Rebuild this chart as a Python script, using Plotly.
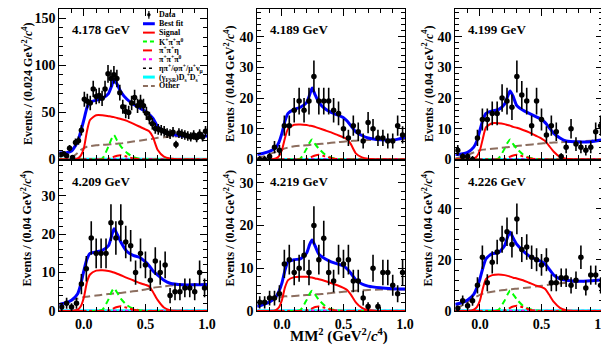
import numpy as np
import plotly.graph_objects as go

W, H = 609, 349
FONT = "Liberation Serif"

# ---------------- data ----------------
energies = ["4.178 GeV", "4.189 GeV", "4.199 GeV", "4.209 GeV", "4.219 GeV", "4.226 GeV"]
bin_widths = [0.024, 0.04, 0.04, 0.04, 0.04, 0.04]
y_max = [160, 49, 49, 39, 35, 58.5]
y_major = [50, 10, 10, 10, 10, 20]
y_minor = [10, 2, 2, 2, 2, 4]
y_titles = ["Events / (0.024 GeV<sup>2</sup>/<i>c</i><sup>4</sup>)"] + \
           ["Events / (0.04 GeV<sup>2</sup>/<i>c</i><sup>4</sup>)"] * 5
x_tickvals = [0.0, 0.5, 1.0]
x_ticktext = ["0.0", "0.5", "1.0"]

counts_4178 = [5, 6, 4, 12, 2, 18, 20, 31, 64, 62, 60, 75, 67, 68, 65, 75, 91, 86, 90, 86,
               71, 56, 51, 50, 60, 66, 57, 61, 57, 49, 44, 38, 33, 32, 31, 30, 28, 27, 29, 16,
               28, 27, 26, 25, 24, 26, 23, 27, 24, 30]
counts_4189 = [0, 0, 1, 4, 3, 11, 11, 16, 19, 16, 19, 27, 19, 19, 19, 16, 15, 10, 7, 11,
               9, 6, 12, 10, 7, 7, 6, 6, 11, 8]
counts_4199 = [3, 1, 1, 0, 7, 13, 13, 15, 15, 20, 19, 17, 27, 21, 19, 11, 19, 13, 8, 11,
               9, 1, 4, 10, 5, 4, 3, 4, 9, 11]
counts_4209 = [1, 2, 1, 2, 7, 11, 19, 15, 15, 15, 23, 19, 23, 18, 17, 10, 15, 12, 8, 13,
               10, 12, 4, 5, 5, 6, 6, 5, 10, 6]
counts_4219 = [2, 2, 3, 3, 4, 11, 12, 9, 10, 13, 9, 20, 12, 17, 9, 7, 12, 11, 12, 7,
               7, 3, 1, 10, 1, 9, 9, 6, 4, 9]
counts_4226 = [1, 4, 2, 4, 10, 21, 11, 19, 23, 28, 31, 26, 36, 24, 25, 21, 20, 18, 20, 11,
               11, 13, 13, 10, 12, 21, 9, 14, 14, 10]

curve_x = [-0.2, -0.15, -0.1, -0.05, -0.025, 0.0, 0.025, 0.05, 0.1, 0.15, 0.2, 0.225, 0.245,
           0.27, 0.3, 0.35, 0.4, 0.45, 0.5, 0.53, 0.56, 0.6, 0.65, 0.7, 0.8, 0.9, 1.0]

fit_4178 = [7, 7, 9, 19, 30, 42, 55, 61, 63, 65, 70, 78, 85, 80, 72, 64, 59, 55, 51, 48, 44, 35, 29, 27, 25, 24.5, 25]
sig_4178 = [0, 0, 0, 1, 4, 12, 30, 42, 47, 47, 46, 45.5, 45, 44, 43, 41, 38, 35, 32, 30, 24, 10, 3, 1, 0, 0, 0]
kpp_4178 = [0, 0, 0, 0, 0, 0, 0, 0, 0, 1, 14, 22, 26, 20, 14, 7, 2.5, 0.8, 0, 0, 0, 0, 0, 0, 0, 0, 0]
ppe_4178 = [0, 0, 0, 0, 0, 0, 0, 0, 0, 0, 0.5, 1.5, 3, 4, 4.5, 3, 1, 0.3, 0, 0, 0, 0, 0, 0, 0, 0, 0]
oth_4178 = [0, 0.3, 2, 7, 10, 12, 13.5, 14, 15, 15.5, 16, 16.3, 16.5, 16.8, 17, 18, 19, 20, 21, 21.5, 22, 23, 23.5, 24, 25, 25, 25]

fit_4189 = [1.6, 2, 2.6, 3.8, 5.5, 8.5, 12.5, 15, 16.3, 17, 18.5, 21, 23.3, 21, 18.6, 16.5, 15.3, 14.5, 13.6, 12.5, 11, 9, 7.8, 7, 6.4, 6.3, 7.2]
sig_4189 = [0, 0, 0, 0.3, 1, 3, 7, 10, 11.3, 11.4, 11.2, 11, 10.9, 10.6, 10.2, 9.5, 8.8, 8, 7.2, 6.6, 5, 2, 0.7, 0.2, 0, 0, 0]
kpp_4189 = [0, 0, 0, 0, 0, 0, 0, 0, 0, 0.3, 3.5, 5.5, 6.5, 5, 3.5, 1.6, 0.6, 0.2, 0, 0, 0, 0, 0, 0, 0, 0, 0]
ppe_4189 = [0, 0, 0, 0, 0, 0, 0, 0, 0, 0, 0.1, 0.4, 0.9, 1.3, 1.5, 1.0, 0.4, 0.1, 0, 0, 0, 0, 0, 0, 0, 0, 0]
oth_4189 = [0.5, 1.0, 1.8, 2.4, 2.8, 3.2, 3.6, 3.9, 4.3, 4.5, 4.6, 4.7, 4.8, 4.9, 5.0, 5.2, 5.4, 5.6, 5.8, 5.9, 6.0, 6.1, 6.2, 6.3, 6.4, 6.5, 6.6]

fit_4199 = [1.6, 1.8, 2.3, 4, 6, 9.5, 13, 15, 15.8, 16.2, 18, 20.5, 22.3, 20.5, 17.5, 16, 15, 14, 13, 12, 10.5, 8.5, 7, 6, 5.7, 5.8, 6.4]
sig_4199 = [0, 0, 0, 0.3, 1, 3, 7, 10.5, 11.8, 11.8, 11.5, 11.2, 11, 10.6, 10.3, 9.6, 8.8, 7.8, 6.8, 6, 4.5, 2.5, 0.8, 0.2, 0, 0, 0]
kpp_4199 = [0, 0, 0, 0, 0, 0, 0, 0, 0, 0.3, 3.5, 5.5, 6.5, 5, 3.5, 1.6, 0.6, 0.2, 0, 0, 0, 0, 0, 0, 0, 0, 0]
ppe_4199 = [0, 0, 0, 0, 0, 0, 0, 0, 0, 0, 0.1, 0.4, 0.9, 1.3, 1.5, 1.0, 0.4, 0.1, 0, 0, 0, 0, 0, 0, 0, 0, 0]
oth_4199 = [0.3, 0.8, 1.5, 2.3, 2.7, 3.0, 3.2, 3.3, 3.5, 3.7, 3.9, 4.0, 4.1, 4.2, 4.4, 4.6, 4.8, 5.0, 5.2, 5.3, 5.4, 5.5, 5.6, 5.7, 5.9, 6.1, 6.3]

fit_4209 = [1.7, 2.1, 2.8, 4.5, 7, 10.5, 13.5, 15, 15.4, 15.8, 17, 19.5, 21.4, 20, 18, 15.5, 14.5, 14, 12.8, 11.8, 10.5, 9.3, 8, 7.2, 6.8, 6.8, 6.9]
sig_4209 = [0, 0, 0, 0.3, 1.2, 3.5, 7.5, 9.5, 10.5, 10.6, 10.4, 10.2, 10, 9.7, 9.3, 8.6, 8, 7.3, 6.8, 6.4, 5, 2.8, 0.9, 0.2, 0, 0, 0]
kpp_4209 = [0, 0, 0, 0, 0, 0, 0, 0, 0, 0.3, 3, 5, 5.9, 4.8, 3.2, 1.5, 0.6, 0.2, 0, 0, 0, 0, 0, 0, 0, 0, 0]
ppe_4209 = [0, 0, 0, 0, 0, 0, 0, 0, 0, 0, 0.1, 0.3, 0.7, 1.0, 1.2, 0.8, 0.3, 0.1, 0, 0, 0, 0, 0, 0, 0, 0, 0]
oth_4209 = [1.8, 2.2, 2.8, 3.2, 3.4, 3.6, 3.7, 3.8, 4.0, 4.2, 4.4, 4.5, 4.55, 4.6, 4.7, 4.9, 5.1, 5.3, 5.6, 5.8, 6.0, 6.2, 6.4, 6.6, 6.8, 6.9, 7.0]

fit_4219 = [1.1, 1.5, 2.1, 3.2, 4.5, 6.5, 9.5, 11.5, 12, 12.2, 13.5, 15.5, 16.6, 15.2, 13.3, 12.2, 11.5, 11, 10.5, 9.8, 8.8, 7.3, 6.3, 5.8, 5.4, 5.2, 5.1]
sig_4219 = [0, 0, 0, 0.2, 0.8, 2.5, 5.5, 7.2, 7.9, 8, 8, 7.9, 7.8, 7.6, 7.4, 7, 6.5, 6, 5.4, 4.9, 3.8, 2, 0.7, 0.2, 0, 0, 0]
kpp_4219 = [0, 0, 0, 0, 0, 0, 0, 0, 0, 0.2, 2.5, 4, 4.7, 3.8, 2.6, 1.2, 0.4, 0.1, 0, 0, 0, 0, 0, 0, 0, 0, 0]
ppe_4219 = [0, 0, 0, 0, 0, 0, 0, 0, 0, 0, 0.1, 0.3, 0.6, 0.9, 1.0, 0.7, 0.3, 0.1, 0, 0, 0, 0, 0, 0, 0, 0, 0]
oth_4219 = [1.0, 1.5, 2.3, 2.9, 3.1, 3.3, 3.4, 3.4, 3.5, 3.6, 3.7, 3.75, 3.8, 3.85, 3.9, 4.0, 4.2, 4.35, 4.5, 4.55, 4.6, 4.7, 4.8, 4.9, 5.0, 5.0, 5.0]

fit_4226 = [2.5, 3.2, 4.3, 6.5, 9, 12.5, 17, 20.5, 22.4, 22.8, 25.5, 29, 30.8, 28.5, 26, 23.5, 21.5, 20.3, 19.3, 18.3, 16.5, 14, 12.5, 12, 11.6, 11.8, 12.2]
sig_4226 = [0, 0, 0, 0.5, 1.5, 4, 9, 12.5, 14, 14.2, 14, 13.7, 13.4, 13, 12.7, 12, 11, 10, 9.3, 8.6, 6.5, 3.5, 1.2, 0.3, 0, 0, 0]
kpp_4226 = [0, 0, 0, 0, 0, 0, 0, 0, 0, 0.4, 4, 6.5, 8, 6.5, 4.5, 2, 0.8, 0.2, 0, 0, 0, 0, 0, 0, 0, 0, 0]
ppe_4226 = [0, 0, 0, 0, 0, 0, 0, 0, 0, 0, 0.2, 0.6, 1.2, 1.7, 2.0, 1.4, 0.5, 0.1, 0, 0, 0, 0, 0, 0, 0, 0, 0]
oth_4226 = [1.0, 2.0, 3.5, 5.0, 5.7, 6.3, 6.8, 7.1, 7.5, 7.9, 8.2, 8.35, 8.45, 8.55, 8.7, 9.0, 9.2, 9.5, 9.8, 10.0, 10.2, 10.5, 10.8, 11.0, 11.4, 11.8, 12.2]

# small near-zero background levels (pi+pi+pi0, eta pi+/..., FSR D+D-)
ppp_level = [0.6, 0.15, 0.15, 0.12, 0.12, 0.2]
etapi_level = [0.3, 0.08, 0.08, 0.06, 0.06, 0.1]
fsr_level = [0.4, 0.1, 0.1, 0.08, 0.08, 0.15]

counts = [counts_4178, counts_4189, counts_4199, counts_4209, counts_4219, counts_4226]
fits = [fit_4178, fit_4189, fit_4199, fit_4209, fit_4219, fit_4226]
sigs = [sig_4178, sig_4189, sig_4199, sig_4209, sig_4219, sig_4226]
kpps = [kpp_4178, kpp_4189, kpp_4199, kpp_4209, kpp_4219, kpp_4226]
ppes = [ppe_4178, ppe_4189, ppe_4199, ppe_4209, ppe_4219, ppe_4226]
oths = [oth_4178, oth_4189, oth_4199, oth_4209, oth_4219, oth_4226]

# ---------------- style ----------------
C_BLUE = "#0000ff"
C_RED = "#ff0000"
C_GREEN = "#00ff00"
C_MAG = "#ff00ff"
C_CYAN = "#00ffff"
C_BROWN = "#8c6e5f"

col_px = [(52, 202), (253, 403), (454, 604)]
row_px = [(1, 155), (157, 310)]
ytitle_x = [19, 225, 426]
ytitle_y = [78, 226]

def px(x):
    return x / W

def py(y):
    return 1 - y / H

fig = go.Figure()
layout = dict(
    width=W, height=H, margin=dict(l=0, r=0, t=0, b=0),
    paper_bgcolor="white", plot_bgcolor="white", showlegend=False,
    font=dict(family=FONT, color="black"),
)
annotations = []
shapes = []

for k in range(6):
    r, c = divmod(k, 3)
    xa = "x" if k == 0 else f"x{k+1}"
    ya = "y" if k == 0 else f"y{k+1}"
    xkey = "xaxis" if k == 0 else f"xaxis{k+1}"
    ykey = "yaxis" if k == 0 else f"yaxis{k+1}"
    x0, x1 = col_px[c]
    y0, y1 = row_px[r]
    layout[xkey] = dict(
        domain=[px(x0), px(x1)], range=[-0.2, 1.0], anchor=ya,
        tickvals=x_tickvals, ticktext=x_ticktext, showticklabels=(r == 1),
        ticks="inside", ticklen=7, tickwidth=1, tickcolor="black",
        minor=dict(ticks="inside", ticklen=4, dtick=0.1, tick0=0, tickcolor="black"),
        showline=True, linecolor="black", linewidth=1, mirror="ticks",
        showgrid=False, zeroline=False,
        tickfont=dict(family=FONT, size=14, color="black", weight="bold"),
    )
    layout[ykey] = dict(
        domain=[py(y1), py(y0)], range=[0, y_max[k]], anchor=xa,
        dtick=y_major[k], tick0=0,
        ticks="inside", ticklen=7, tickwidth=1, tickcolor="black",
        minor=dict(ticks="inside", ticklen=4, dtick=y_minor[k], tick0=0, tickcolor="black"),
        showline=True, linecolor="black", linewidth=1, mirror="ticks",
        showgrid=False, zeroline=False,
        tickfont=dict(family=FONT, size=14, color="black", weight="bold"),
    )

    n = len(counts[k])
    w = bin_widths[k]
    centers = -0.2 + w * (np.arange(n) + 0.5)
    cnt = np.array(counts[k], dtype=float)
    err_up = np.where(cnt > 0, np.sqrt(cnt), 1.15)
    err_dn = np.sqrt(cnt)

    def line_trace(yv, color, width, dash="solid", shape="spline"):
        return go.Scatter(x=curve_x, y=yv, xaxis=xa, yaxis=ya, mode="lines",
                          line=dict(color=color, width=width, dash=dash, shape=shape,
                                    smoothing=0.6),
                          hoverinfo="skip")

    fig.add_trace(line_trace([fsr_level[k]] * len(curve_x), C_CYAN, 2.5, shape="linear"))
    fig.add_trace(line_trace([etapi_level[k]] * len(curve_x), "black", 1.5, "dot", "linear"))
    fig.add_trace(line_trace([ppp_level[k]] * len(curve_x), C_MAG, 1.5, "dot", "linear"))
    fig.add_trace(line_trace(oths[k], C_BROWN, 2, "8px,4px"))
    fig.add_trace(line_trace(kpps[k], C_GREEN, 2, "6px,4px"))
    fig.add_trace(line_trace(ppes[k], C_RED, 2, "dashdot"))
    fig.add_trace(line_trace(sigs[k], C_RED, 2))
    fig.add_trace(line_trace(fits[k], C_BLUE, 3))
    fig.add_trace(go.Scatter(
        x=centers, y=cnt, xaxis=xa, yaxis=ya, mode="markers",
        marker=dict(color="black", size=5.5, symbol="circle"),
        error_y=dict(type="data", array=err_up, arrayminus=err_dn, symmetric=False,
                     color="black", thickness=1.6, width=0),
        cliponaxis=True, hoverinfo="skip"))

    # energy label
    annotations.append(dict(
        x=px(x0 + 11), y=py(y0 + 21), xref="paper", yref="paper",
        xanchor="left", yanchor="middle", showarrow=False,
        text=energies[k], font=dict(family=FONT, size=13, color="black", weight="bold")))
    # y title
    annotations.append(dict(
        x=px(ytitle_x[c]), y=py(ytitle_y[r]), xref="paper", yref="paper",
        xanchor="center", yanchor="middle", showarrow=False, textangle=-90,
        text=y_titles[k], font=dict(family=FONT, size=12, color="black", weight="bold")))

# x title
annotations.append(dict(
    x=px(336), y=py(335), xref="paper", yref="paper", xanchor="center", yanchor="middle",
    showarrow=False, text="MM<sup>2</sup> (GeV<sup>2</sup>/<i>c</i><sup>4</sup>)",
    font=dict(family=FONT, size=15, color="black", weight="bold")))

# legend (panel 1)
legend_labels = ["Data", "Best fit", "Signal", "K<sup>+</sup>π<sup>+</sup>π<sup>0</sup>",
                 "π<sup>+</sup>π<sup>+</sup>η", "π<sup>+</sup>π<sup>+</sup>π<sup>0</sup>",
                 "ηπ<sup>+</sup>/φπ<sup>+</sup>/μ<sup>+</sup>ν<sub>μ</sub>",
                 "(γ<sub>FSR</sub>)D<sub>s</sub><sup>+</sup>D<sub>s</sub><sup>-</sup>", "Other"]
legend_styles = [None, (C_BLUE, 3, "solid"), (C_RED, 2, "solid"), (C_GREEN, 2, "4px,3px"),
                 (C_RED, 2, "dashdot"), (C_MAG, 2, "dot"), ("black", 1.5, "dot"),
                 (C_CYAN, 3, "solid"), (C_BROWN, 2, "5px,3px")]
lx0, lx1, ltx = 137, 149, 151
for i, (lab, st) in enumerate(zip(legend_labels, legend_styles)):
    yy = 7 + 9.1 * i
    if st is None:
        shapes.append(dict(type="line", xref="paper", yref="paper",
                           x0=px(143), x1=px(143), y0=py(yy - 4), y1=py(yy + 4),
                           line=dict(color="black", width=1.2)))
        shapes.append(dict(type="circle", xref="paper", yref="paper",
                           x0=px(141.5), x1=px(144.5), y0=py(yy + 1.5), y1=py(yy - 1.5),
                           fillcolor="black", line=dict(color="black", width=0.5)))
    else:
        col, wd, ds = st
        shapes.append(dict(type="line", xref="paper", yref="paper",
                           x0=px(lx0), x1=px(lx1), y0=py(yy), y1=py(yy),
                           line=dict(color=col, width=wd, dash=ds)))
    annotations.append(dict(
        x=px(ltx), y=py(yy), xref="paper", yref="paper", xanchor="left", yanchor="middle",
        showarrow=False, text=lab, font=dict(family=FONT, size=8, color="black", weight="bold")))

layout["annotations"] = annotations
layout["shapes"] = shapes
fig.update_layout(**layout)
fig.write_html("out.html")
